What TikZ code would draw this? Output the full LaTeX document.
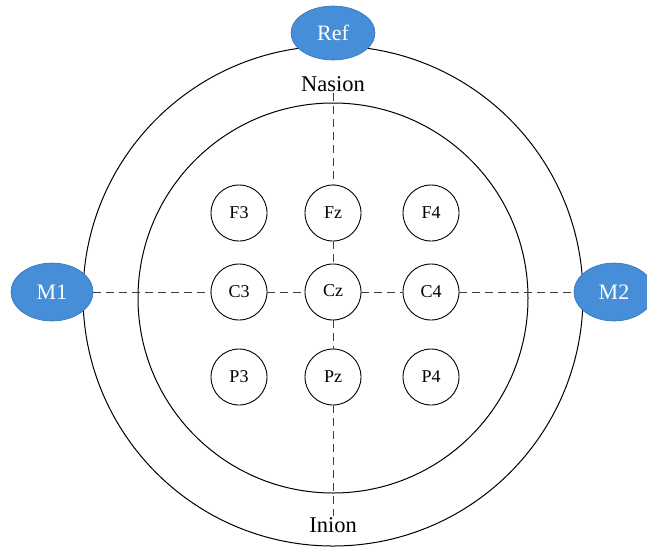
\documentclass[tikz,border=0pt]{standalone}
\usepackage{fontspec}
\setmainfont{Liberation Serif}
\usetikzlibrary{shapes.geometric}
\definecolor{refblue}{RGB}{70,142,216}
\definecolor{refedge}{RGB}{55,115,185}
\definecolor{dashgray}{RGB}{60,60,60}
\begin{document}
\begin{tikzpicture}[x=1pt,y=-1pt,
  electrode/.style={circle,draw=black,line width=0.9pt,minimum size=56pt,inner sep=0pt,font=\fontsize{18}{18}\selectfont},
  blueell/.style={ellipse,fill=refblue,draw=refedge,line width=0.6pt,inner sep=0pt,text=white,font=\fontsize{22}{22}\selectfont},
  landmark/.style={inner sep=1pt,font=\fontsize{22.5}{22.5}\selectfont},
  link/.style={dashed,dash pattern=on 8pt off 5pt,draw=dashgray,line width=1pt}]
\useasboundingbox (0,0) rectangle (647,547);
% head circles
\draw[line width=1pt] (333,296) circle[radius=250];
\draw[line width=1pt] (333,298) circle[radius=195];
% landmarks
\node[landmark] (nasion) at (333,84) {Nasion};
\node[landmark] (inion) at (333,525) {Inion};
% electrodes
\node[electrode] (F3) at (239,213) {F3};
\node[electrode] (Fz) at (333,213) {Fz};
\node[electrode] (F4) at (431,213) {F4};
\node[electrode] (C3) at (239,292) {C3};
\node[electrode] (Cz) at (333,292) {\raisebox{2pt}{Cz}};
\node[electrode] (C4) at (431,292) {\raisebox{-2pt}{C4}};
\node[electrode] (P3) at (239,377) {P3};
\node[electrode] (Pz) at (333,377) {Pz};
\node[electrode] (P4) at (431,377) {P4};
% reference electrodes
\node[blueell,minimum width=84pt,minimum height=54pt] (Ref) at (333,33) {Ref};
\node[blueell,minimum width=82pt,minimum height=58pt] (M1) at (52,292) {M1};
\node[blueell,minimum width=80pt,minimum height=58pt] (M2) at (614,292) {M2};
% connectors
\draw[link] (nasion.south) -- (Fz.north);
\draw[link] (Fz.south) -- (Cz.north);
\draw[link] (Cz.south) -- (Pz.north);
\draw[link] (Pz.south) -- (inion.north);
\draw[link] (M1.east) -- (C3.west);
\draw[link] (C3.east) -- (Cz.west);
\draw[link] (Cz.east) -- (C4.west);
\draw[link] (C4.east) -- (M2.west);
\end{tikzpicture}
\end{document}
